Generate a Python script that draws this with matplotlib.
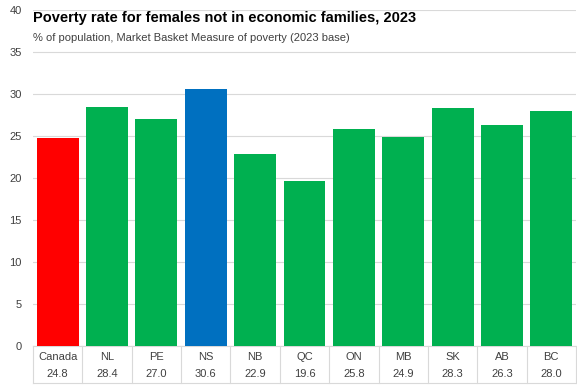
import matplotlib
matplotlib.use("Agg")
import matplotlib.pyplot as plt

regions = ["Canada", "NL", "PE", "NS", "NB", "QC", "ON", "MB", "SK", "AB", "BC"]
rates = [24.8, 28.4, 27.0, 30.6, 22.9, 19.6, 25.8, 24.9, 28.3, 26.3, 28.0]
colors = ["#FF0000", "#00B050", "#00B050", "#0070C0", "#00B050", "#00B050",
          "#00B050", "#00B050", "#00B050", "#00B050", "#00B050"]

plt.rcParams['font.family'] = ['Liberation Sans', 'DejaVu Sans']

fig = plt.figure(figsize=(5.77, 3.85), dpi=100)
ax = fig.add_axes([33 / 577, 1 - 346 / 385, 543 / 577, 336 / 385])

x = list(range(len(regions)))
ax.bar(x, rates, width=0.85, color=colors, zorder=3)
ax.set_xlim(-0.5, len(regions) - 0.5)
ax.set_ylim(0, 40)
ax.set_yticks(range(0, 41, 5))
ax.tick_params(axis='y', length=0, labelsize=8, labelcolor='#404040', pad=8)
ax.set_xticks([])
ax.grid(axis='y', color='#D9D9D9', linewidth=0.8, zorder=0)
for s in ['top', 'right', 'left']:
    ax.spines[s].set_visible(False)
ax.spines['bottom'].set_color('#D9D9D9')

# table under the bars: region names and values
trans = ax.get_xaxis_transform()
for i, (r, v) in enumerate(zip(regions, rates)):
    ax.text(i, -0.033, r, transform=trans, ha='center', va='center',
            fontsize=8, color='#404040')
    ax.text(i, -0.083, f"{v:.1f}", transform=trans, ha='center', va='center',
            fontsize=8, color='#404040')
for b in [i - 0.5 for i in range(len(regions) + 1)]:
    ax.plot([b, b], [0, -0.11], transform=trans, color='#D9D9D9',
            linewidth=0.8, clip_on=False)
ax.plot([-0.5, len(regions) - 0.5], [-0.11, -0.11], transform=trans,
        color='#D9D9D9', linewidth=0.8, clip_on=False)

fig.text(33 / 577, 1 - 18 / 385, "Poverty rate for females not in economic families, 2023",
         fontsize=10.5, fontweight='bold', va='center', color='black')
fig.text(33 / 577, 1 - 38 / 385, "% of population, Market Basket Measure of poverty (2023 base)",
         fontsize=8, va='center', color='#404040')

fig.savefig("out.png", dpi=100)
